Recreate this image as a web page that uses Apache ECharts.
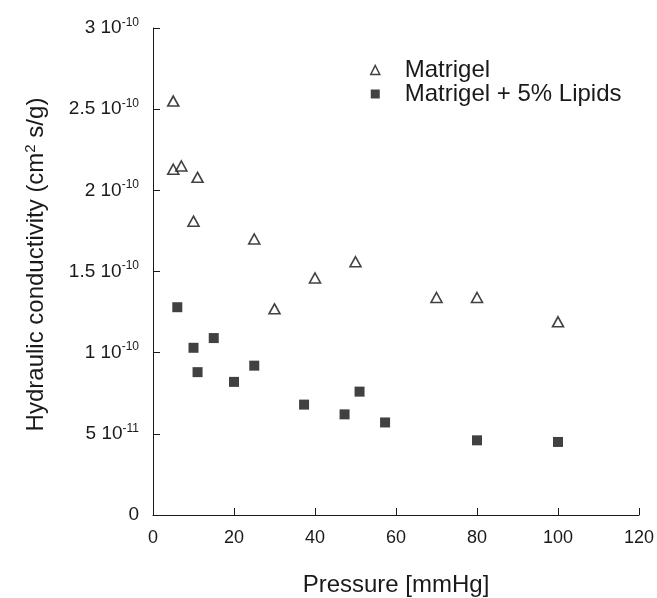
<!DOCTYPE html>
<html>
<head>
<meta charset="utf-8">
<script src="https://cdn.jsdelivr.net/npm/echarts@6/dist/echarts.min.js"></script>
<style>
  html, body { margin: 0; padding: 0; background: #fff; }
  #chart { width: 657px; height: 598px; }
</style>
</head>
<body>
<div id="chart"></div>
<script>
// Pressure [mmHg] vs hydraulic conductivity (cm^2 s/g)
const matrigelX = [5, 5, 7, 11, 10, 25, 30, 40, 50, 70, 80, 100];
const matrigelY = [2.55e-10, 2.13e-10, 2.15e-10, 2.08e-10, 1.81e-10, 1.70e-10, 1.27e-10, 1.46e-10, 1.56e-10, 1.34e-10, 1.34e-10, 1.19e-10];

const lipidsX = [6, 10, 11, 15, 20, 25, 37.3, 47.3, 51, 57.3, 80, 100];
const lipidsY = [1.28e-10, 1.03e-10, 0.88e-10, 1.09e-10, 0.82e-10, 0.92e-10, 0.68e-10, 0.62e-10, 0.76e-10, 0.57e-10, 0.46e-10, 0.45e-10];

// y tick labels: mantissa and exponent, by tick index
const yTickMantissa = ["0", "5 10", "1 10", "1.5 10", "2 10", "2.5 10", "3 10"];
const yTickExponent = ["", "-11", "-10", "-10", "-10", "-10", "-10"];

const seriesNames = ["Matrigel", "Matrigel + 5% Lipids"];

const font = "Liberation Sans, Arial, sans-serif";
const ink = "#1a1a1a";
const markInk = "#111";

const chart = echarts.init(document.getElementById("chart"));

const toPairs = (xs, ys) => xs.map((x, i) => [x, ys[i]]);

const option = {
  backgroundColor: "#fff",
  animation: false,
  textStyle: { fontFamily: font, color: ink },
  grid: {
    left: 153,
    right: 18,
    top: 28,
    bottom: 83,
    containLabel: false,
    outerBoundsMode: "none",
  },
  legend: {
    orient: "vertical",
    left: 365,
    top: 53,
    itemGap: 0,
    itemWidth: 9,
    itemHeight: 9,
    textStyle: {
      fontSize: 24,
      lineHeight: 23,
      color: ink,
      fontFamily: font,
      padding: [0, 0, 0, 20],
    },
    data: [
      { name: seriesNames[0], icon: "triangle", itemStyle: { color: "#fff", borderColor: markInk, borderWidth: 1.5 } },
      { name: seriesNames[1], icon: "rect", itemStyle: { color: markInk } },
    ],
  },
  xAxis: {
    type: "value",
    min: 0,
    max: 120,
    interval: 20,
    name: "Pressure [mmHg]",
    nameLocation: "middle",
    nameGap: 58,
    nameTextStyle: { fontSize: 24, color: ink, fontFamily: font },
    axisLine: { show: true, lineStyle: { color: ink, width: 1 } },
    axisTick: { show: true, inside: true, length: 7, lineStyle: { color: ink } },
    axisLabel: { fontSize: 18, color: ink, margin: 14, fontFamily: font },
    splitLine: { show: false },
  },
  yAxis: {
    type: "value",
    min: 0,
    max: 3e-10,
    interval: 0.5e-10,
    name: "Hydraulic conductivity (cm{s|2} s/g)",
    nameLocation: "middle",
    nameGap: 103,
    nameRotate: 90,
    nameTextStyle: {
      fontSize: 24,
      color: ink,
      fontFamily: font,
      padding: [0, 0, 0, 14],
      rich: {
        s: { fontSize: 15, color: ink, fontFamily: font, padding: [0, 0, 12, 0] },
      },
    },
    axisLine: { show: true, lineStyle: { color: ink, width: 1 } },
    axisTick: { show: true, inside: true, length: 7, lineStyle: { color: ink } },
    axisLabel: {
      margin: 14,
      formatter: function (value) {
        const i = Math.round(value / 0.5e-10);
        if (!yTickExponent[i]) return "{m|" + yTickMantissa[i] + "}";
        return "{m|" + yTickMantissa[i] + "}{e|" + yTickExponent[i] + "}";
      },
      rich: {
        m: { fontSize: 19, color: ink, fontFamily: font },
        e: { fontSize: 12, color: ink, fontFamily: font, padding: [0, 0, 11, 0] },
      },
    },
    splitLine: { show: false },
  },
  series: [
    {
      name: seriesNames[0],
      type: "scatter",
      symbol: "triangle",
      symbolSize: [11, 10],
      itemStyle: { color: "#fff", borderColor: markInk, borderWidth: 1.6 },
      data: toPairs(matrigelX, matrigelY),
    },
    {
      name: seriesNames[1],
      type: "scatter",
      symbol: "rect",
      symbolSize: 10,
      itemStyle: { color: markInk },
      data: toPairs(lipidsX, lipidsY),
    },
  ],
};

chart.setOption(option);
</script>
</body>
</html>
